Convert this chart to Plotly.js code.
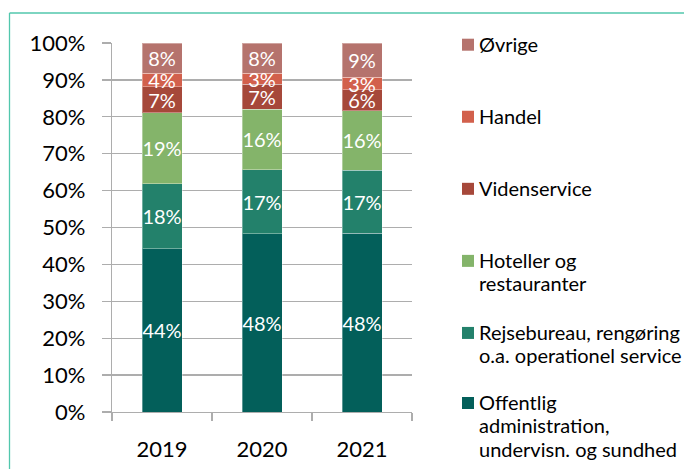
<!DOCTYPE html>
<html>
<head>
<meta charset="utf-8">
<script src="https://cdn.plot.ly/plotly-3.0.1.min.js"></script>
<style>
html,body{margin:0;padding:0;background:#fff;}
#chart{width:684px;height:469px;}
</style>
</head>
<body>
<div id="chart"></div>
<script>
// ---- data ----
var years = ['2019', '2020', '2021'];
var seriesNames = [
  'Offentlig administration, undervisn. og sundhed',
  'Rejsebureau, rengøring o.a. operationel service',
  'Hoteller og restauranter',
  'Videnservice',
  'Handel',
  'Øvrige'
];
var legendLines = [
  ['Offentlig', 'administration,', 'undervisn. og sundhed'],
  ['Rejsebureau, rengøring', 'o.a. operationel service'],
  ['Hoteller og', 'restauranter'],
  ['Videnservice'],
  ['Handel'],
  ['Øvrige']
];
var offentlig = [44.2, 48.3, 48.4];
var rejsebureau = [17.6, 17.4, 17.1];
var hoteller = [19.3, 16.3, 16.2];
var videnservice = [7.1, 6.8, 5.6];
var handel = [3.6, 3.0, 3.4];
var oevrige = [8.2, 8.2, 9.3];
var yTickVals = [0, 10, 20, 30, 40, 50, 60, 70, 80, 90, 100];
var yTickText = ['0%', '10%', '20%', '30%', '40%', '50%', '60%', '70%', '80%', '90%', '100%'];

var seriesValues = [offentlig, rejsebureau, hoteller, videnservice, handel, oevrige];
var colors = ['#035f5a', '#23816b', '#84b46a', '#a6483a', '#d2604c', '#b5736d'];

var FONT = 'Lato, "Open Sans", sans-serif';

var traces = seriesValues.map(function (vals, i) {
  return {
    type: 'bar',
    x: years,
    y: vals,
    name: seriesNames[i],
    marker: {color: colors[i], line: {color: 'rgba(255,255,255,0.35)', width: 1}},
    texttemplate: '%{y:.0f}%',
    textposition: 'inside',
    textangle: 0,
    insidetextanchor: 'middle',
    constraintext: 'none',
    cliponaxis: false,
    insidetextfont: {color: '#ffffff', size: 20, family: FONT},
    hoverinfo: 'skip',
    showlegend: false
  };
});

// plot area in pixels
var L = 112, R = 412, T = 43.3, B = 412, W = 684, H = 469;
function px(x) { return (x - L) / (R - L); }
function py(y) { return (B - y) / (B - T); }

// manual legend (swatch aligned with first line)
var legendFirstLineY = [402, 332, 260, 188, 116, 44];
var LINE_H = 23.3;
var annotations = [];
var shapes = [];
for (var i = 0; i < legendLines.length; i++) {
  var cy = legendFirstLineY[i];
  for (var k = 0; k < legendLines[i].length; k++) {
    annotations.push({
      xref: 'paper', yref: 'paper',
      x: px(477), y: py(cy + k * LINE_H),
      xanchor: 'left', yanchor: 'middle', align: 'left',
      text: legendLines[i][k], showarrow: false,
      font: {family: FONT, size: 20, color: '#000'}
    });
  }
  shapes.push({
    type: 'rect', xref: 'paper', yref: 'paper',
    x0: px(462), x1: px(474), y0: py(cy - 5), y1: py(cy + 7),
    fillcolor: colors[i], line: {width: 0}
  });
}
// frame border (teal)
shapes.push({type: 'line', xref: 'paper', yref: 'paper', x0: px(9.5), x1: px(9.5), y0: py(13.3), y1: py(H + 5),
  line: {color: '#52c7ad', width: 1.3}});
shapes.push({type: 'line', xref: 'paper', yref: 'paper', x0: px(9.5), x1: px(W + 5), y0: py(13.3), y1: py(13.3),
  line: {color: '#52c7ad', width: 1.3}});

var layout = {
  width: W, height: H,
  margin: {l: L, r: W - R, t: T, b: H - B, pad: 0},
  paper_bgcolor: '#fff', plot_bgcolor: '#fff',
  barmode: 'stack',
  bargap: 0.6,
  font: {family: FONT, size: 18, color: '#000'},
  showlegend: false,
  xaxis: {
    type: 'category',
    tickson: 'boundaries',
    ticks: 'outside', ticklen: 8, tickcolor: '#adadad', tickwidth: 1.3,
    showline: true, linecolor: '#adadad', linewidth: 1.3,
    showgrid: false,
    tickfont: {family: FONT, size: 22, color: '#000'},
    ticklabelstandoff: 17,
    fixedrange: true
  },
  yaxis: {
    range: [0, 100],
    tickvals: yTickVals, ticktext: yTickText,
    ticks: 'outside', ticklen: 9, tickcolor: '#adadad', tickwidth: 1.3,
    showline: true, linecolor: '#adadad', linewidth: 1.3,
    showgrid: true, gridcolor: '#adadad', gridwidth: 1.3,
    zeroline: false,
    tickfont: {family: FONT, size: 22, color: '#000'},
    ticklabelstandoff: 12,
    fixedrange: true
  },
  annotations: annotations,
  shapes: shapes
};

Plotly.newPlot('chart', traces, layout, {displayModeBar: false, staticPlot: true});
</script>
</body>
</html>
